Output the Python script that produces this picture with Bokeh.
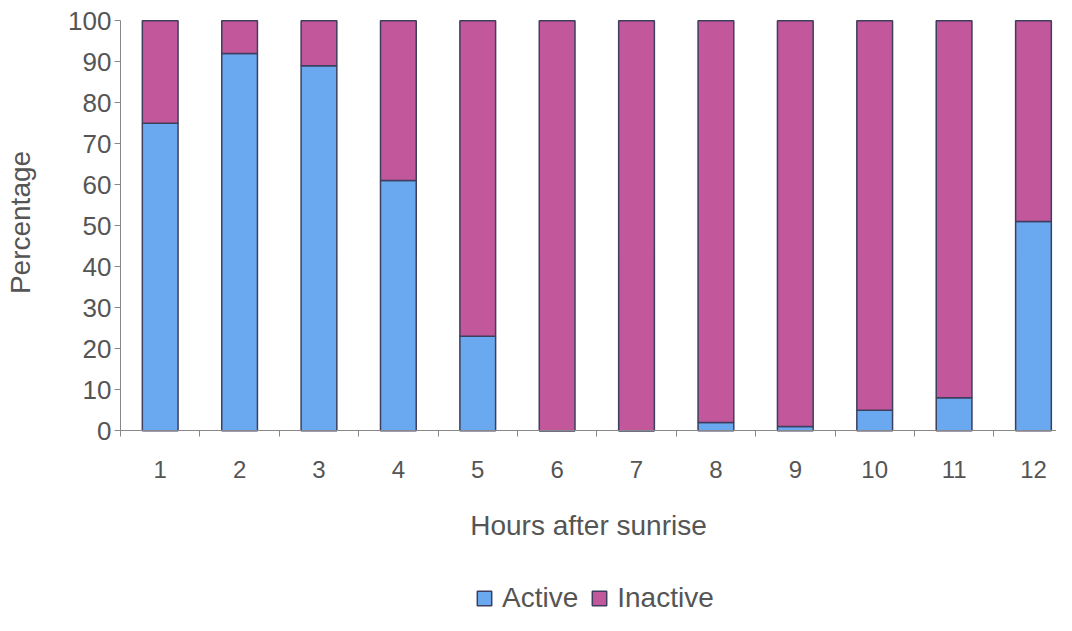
import math
from bokeh.plotting import figure
from bokeh.models import (ColumnDataSource, Range1d, FixedTicker, Legend, LegendItem, Label)
from bokeh.embed import file_html
from bokeh.resources import INLINE

hours = [1, 2, 3, 4, 5, 6, 7, 8, 9, 10, 11, 12]
hour_labels = ["1", "2", "3", "4", "5", "6", "7", "8", "9", "10", "11", "12"]
active = [75, 92, 89, 61, 23, 0, 0, 2, 1, 5, 8, 51]
inactive = [100 - a for a in active]
y_ticks = [0, 10, 20, 30, 40, 50, 60, 70, 80, 90, 100]

BLUE = "#6AA8F0"
MAGENTA = "#C2579C"
EDGE = "#3E3E5E"
TEXT = "#555555"
FONT = "Liberation Sans"

W, H = 1056, 615
src = ColumnDataSource(dict(x=hours, Active=active, Inactive=inactive))

p = figure(width=W, height=H, output_backend="svg", toolbar_location=None,
           x_range=Range1d(-1.0115, 12.29), y_range=Range1d(-45.1, 104.93),
           min_border_left=0, min_border_right=0, min_border_top=0,
           min_border_bottom=0)
p.outline_line_color = None
p.grid.grid_line_color = None
p.background_fill_color = "white"

rs = p.vbar_stack(["Active", "Inactive"], x="x", width=0.45, source=src,
                  color=[BLUE, MAGENTA], line_color=EDGE, line_width=1.5)

# x axis (drawn at y = 0)
xa = p.xaxis[0]
xa.fixed_location = 0
xa.bounds = (0.5, 12.5)
xa.ticker = FixedTicker(ticks=hours, minor_ticks=[h + 0.5 for h in [0] + hours])
xa.major_label_overrides = {h: l for h, l in zip(hours, hour_labels)}
xa.major_tick_line_color = None
xa.major_tick_out = 6
xa.minor_tick_out = 6
xa.minor_tick_in = 0
xa.minor_tick_line_color = "#888888"
xa.axis_line_color = "#888888"
xa.major_label_standoff = 24
xa.major_label_text_font = FONT
xa.major_label_text_font_size = "24px"
xa.major_label_text_color = TEXT
xa.axis_label = "Hours after sunrise"
xa.axis_label_text_font = FONT
xa.axis_label_text_font_size = "28px"
xa.axis_label_text_font_style = "normal"
xa.axis_label_text_color = TEXT
xa.axis_label_standoff = 29

# y axis (drawn at x = 0.5)
ya = p.yaxis[0]
ya.fixed_location = 0.5
ya.ticker = FixedTicker(ticks=y_ticks)
ya.bounds = (0, 100)
ya.minor_tick_line_color = None
ya.major_tick_out = 6
ya.major_tick_in = 0
ya.major_tick_line_color = "#888888"
ya.axis_line_color = "#888888"
ya.major_label_standoff = 3
ya.major_label_text_font = FONT
ya.major_label_text_font_size = "26px"
ya.major_label_text_color = TEXT

ylabel = Label(x=20, y=H - 222, x_units="screen", y_units="screen",
               text="Percentage", angle=math.pi / 2,
               text_align="center", text_baseline="middle",
               text_font=FONT, text_font_size="28px", text_color=TEXT)
p.add_layout(ylabel)

legend = Legend(items=[LegendItem(label="Active", renderers=[rs[0]]),
                       LegendItem(label="Inactive", renderers=[rs[1]])],
                location=(475, 1), orientation="horizontal",
                glyph_width=18, glyph_height=18, label_standoff=9, spacing=12,
                padding=0, margin=0, border_line_color=None,
                background_fill_alpha=0,
                label_text_font=FONT, label_text_font_size="28px",
                label_text_color=TEXT)
p.add_layout(legend, "center")

open("out.html", "w").write(file_html(p, INLINE))
